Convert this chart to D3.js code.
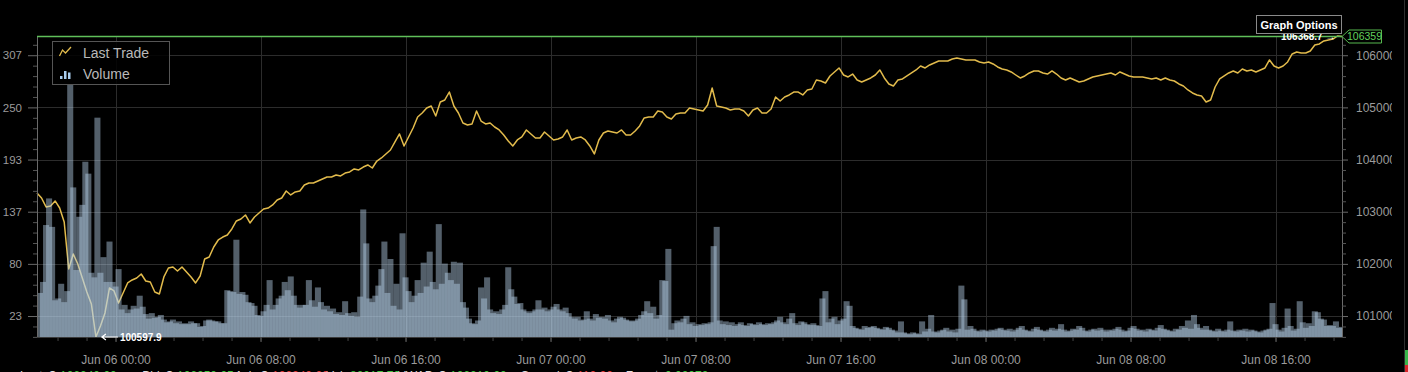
<!DOCTYPE html>
<html>
<head>
<meta charset="utf-8">
<script src="https://cdn.jsdelivr.net/npm/d3@7"></script>
<style>
	html, body { margin: 0; padding: 0; background: #000; overflow: hidden; }
	svg { display: block; font-family: Arial, "Liberation Sans", sans-serif; }
</style>
</head>
<body>
<div id="chart"></div>
<script>
// Last trade, one value every 15 minutes from startTime
var priceSeries = [
	103359,103263,103091,103110,103206,103071,102803,101902,102189,101998,
	101729,101461,101231,100597.9,100809,101058,101538,101480,101250,101442,
	101634,101691,101729,101806,101672,101653,101461,101423,101749,101921,
	101940,101864,101940,101844,101749,101634,101768,102094,102132,102324,
	102458,102515,102554,102669,102822,102861,102937,102784,102899,102976,
	103052,103071,103129,103225,103263,103397,103321,103378,103397,103512,
	103551,103551,103589,103627,103666,103666,103704,103685,103742,103762,
	103819,103800,103857,103896,103838,103972,104030,104107,104183,104337,
	104490,104260,104433,104605,104816,104893,104989,105027,104835,105104,
	105142,105295,105027,104893,104701,104663,104682,104931,104739,104682,
	104701,104624,104567,104471,104356,104260,104375,104433,104567,104490,
	104413,104413,104528,104452,104375,104394,104433,104567,104375,104413,
	104433,104375,104260,104107,104375,104509,104548,104528,104509,104567,
	104471,104471,104548,104644,104797,104816,104816,104931,104912,104816,
	104778,104874,104893,104893,104989,104969,104950,104931,105046,105372,
	105027,105008,104989,104950,104969,104969,104931,104835,104950,104989,
	104893,104893,104969,105200,105123,105200,105238,105295,105295,105238,
	105334,105353,105525,105506,105468,105602,105679,105756,105621,105583,
	105640,105525,105487,105525,105564,105621,105717,105564,105449,105410,
	105525,105545,105602,105660,105717,105794,105756,105813,105851,105890,
	105890,105890,105928,105947,105928,105909,105909,105909,105871,105851,
	105871,105832,105775,105736,105717,105679,105621,105564,105602,105660,
	105698,105698,105660,105640,105698,105640,105564,105525,105564,105525,
	105487,105506,105545,105583,105602,105621,105640,105660,105621,105679,
	105640,105602,105583,105583,105583,105564,105545,105564,105525,105564,
	105525,105506,105449,105410,105334,105276,105238,105219,105104,105142,
	105391,105545,105602,105660,105698,105660,105736,105698,105717,105679,
	105717,105756,105909,105794,105756,105794,105871,106024,106062,106043,
	106043,106081,106196,106216,106273,106292,106311,106368.7,106359
];

// Volume, one bar every 10 minutes from startTime
var volumeSeries = [
	48,60,122,151,120,40,42,58,38,50, 275,163,73,131,144,191,178,70,65,239,
	70,87,60,104,60,55,74,30,35,26, 30,34,31,45,33,25,20,26,21,22,
	24,19,16,17,19,15,17,14,15,14, 17,15,15,11,12,18,19,18,17,17,
	15,15,51,50,49,106,47,49,46,38, 37,34,24,23,28,35,62,30,35,42,
	45,60,51,66,45,35,32,35,
	35,62,40,33,54,38,30,34,28,31, 25,27,24,39,26,23,27,22,44,139,
	102,42,38,45,56,74,104,48,85,34, 58,30,113,65,50,38,45,62,48,81,
	55,93,60,52,123,58,80,70,62,82, 58,81,38,32,20,15,14,18,54,42,
	65,30,26,28,25,30,35,76,52,44, 36,37,30,28,26,28,30,40,30,32,
	28,30,33,36,30,28,32,26,22,20, 22,18,19,28,20,18,25,21,22,
	20,24,18,16,20,22,21,19,18,17, 18,20,24,28,39,26,33,20,24,62,
	61,96,8,15,18,16,20,23,14,16, 12,14,13,15,14,16,99,120,18,14,
	17,13,16,12,14,16,13,12,15,14, 13,16,14,13,15,14,16,18,22,16,
	14,20,26,15,13,17,16,14,13,15, 13,12,42,50,16,20,22,14,18,20,
	39,34,12,10,9,8,12,10,11,12, 10,9,8,11,10,8,7,5,17,5,
	4,3,5,4,3,17,6,9,24,6, 5,7,8,10,6,8,5,9,56,41,
	8,12,9,7,6,8,7,6,8,7, 9,10,8,
	7,9,6,8,10,12,8,7,6,9, 11,8,7,6,8,10,7,9,14,8,
	6,7,9,8,12,10,7,6,8,9, 7,10,8,
	6,8,7,9,11,8,6,7,10,12, 9,7,8,6,9,8,7,10,13,9,
	8,7,6,9,8,12,10,18,9,24, 14,10,8,
	12,8,7,6,9,7,6,8,17,7, 6,8,7,9,6,8,7,6,5,7,
	8,9,37,14,8,6,10,31,12,7, 9,39,16,10,15,12,28,27,20,19,
	12,13,12,17,10,11
];

var priceTicks = [101000, 102000, 103000, 104000, 105000, 106000];
var legendItems = ["Last Trade", "Volume"];
var lastPrice = 106359;
var volumeCeiling = 328;
var startTime = new Date(2025, 5, 5, 19, 40);

// Ticker strip under the chart (only the top of it shows)
var tickerLabels = ["Last: $", "Bid: $", "Ask: $", "Vol:", "VWAP: $", "Spread: $", "Fee: \u0e3f"];
var tickerValues = ["106240.00", "106250.05", "106240.00", "80017.70", "106210.00", "110.00", "0.00070"];
var tickerUp = [true, true, false, true, true, false, true];

var W = 1408, H = 372
	, plot = {left: 37, right: 1342, top: 36, bottom: 337}
	, gridColor = "#2c2c2c", axisText = "#9b9b9b";

var svg = d3.select("#chart").append("svg")
	.attr("width", W)
	.attr("height", H);

svg.append("rect").attr("width", W).attr("height", H).attr("fill", "#000");

// --- SCALES --- \\
var endTime = d3.timeHour.offset(startTime, 72);
var x = d3.scaleTime().domain([startTime, endTime]).range([plot.left, plot.right]);
var yPrice = d3.scaleLinear()
	.domain([d3.min(priceSeries), d3.max(priceSeries)])
	.range([plot.bottom, plot.top]);
var yVol = d3.scaleLinear().domain([0, volumeCeiling]).range([plot.bottom, plot.top]);

var priceData = priceSeries.map(function (p, k) {
	return {t: d3.timeMinute.offset(startTime, 15 * k), p: p};
});
var volData = volumeSeries.map(function (v, i) {
	return {t: d3.timeMinute.offset(startTime, 10 * i), v: v};
});

var timeTicks = x.ticks(d3.timeHour.every(8));

svg.append("defs").append("clipPath").attr("id", "plot-clip")
	.append("rect")
	.attr("x", plot.left).attr("y", plot.top - 2)
	.attr("width", plot.right - plot.left).attr("height", plot.bottom - plot.top + 2);
svg.select("defs").append("clipPath").attr("id", "right-clip")
	.append("rect").attr("x", 0).attr("y", 0).attr("width", 50).attr("height", H);

// --- GRID --- \\
svg.append("g").selectAll("line").data(priceTicks).join("line")
	.attr("x1", plot.left).attr("x2", plot.right)
	.attr("y1", function (d) { return Math.round(yPrice(d)) + 0.5; })
	.attr("y2", function (d) { return Math.round(yPrice(d)) + 0.5; })
	.attr("stroke", gridColor);
svg.append("g").selectAll("line").data(timeTicks).join("line")
	.attr("x1", function (d) { return Math.round(x(d)) + 0.5; })
	.attr("x2", function (d) { return Math.round(x(d)) + 0.5; })
	.attr("y1", plot.top).attr("y2", plot.bottom)
	.attr("stroke", gridColor);

// --- LAST TRADE LINE --- \\
var line = d3.line()
	.x(function (d) { return x(d.t); })
	.y(function (d) { return yPrice(d.p); });

svg.append("path")
	.datum(priceData)
	.attr("d", line)
	.attr("fill", "none")
	.attr("stroke", "#e2bb4c")
	.attr("stroke-width", 1.5)
	.attr("stroke-linejoin", "round");

// --- VOLUME --- \\
// Bars are twice the step wide and see-through, so neighbours overlap
// and tops that stand above their neighbours come out darker
var barStep = x(d3.timeMinute.offset(startTime, 10)) - x(startTime);
svg.append("g").attr("clip-path", "url(#plot-clip)")
	.selectAll("rect").data(volData).join("rect")
	.attr("x", function (d) { return x(d.t); })
	.attr("y", function (d) { return yVol(d.v); })
	.attr("width", barStep * 2)
	.attr("height", function (d) { return plot.bottom - yVol(d.v); })
	.attr("fill", "#b9d3ea")
	.attr("fill-opacity", 0.45);

// --- AXES --- \\
function styleAxis(g, fontSize) {
	g.select(".domain").attr("stroke", "#6a6a6a");
	g.selectAll(".tick line").attr("stroke", "#6a6a6a");
	g.selectAll(".tick text").attr("fill", axisText).attr("font-size", fontSize + "px")
		.attr("font-family", "Arial, 'Liberation Sans', sans-serif");
}

var minorPrice = d3.range(100600, 106400, 200).filter(function (d) {
	return priceTicks.indexOf(d) < 0 && yPrice(d) >= plot.top;
});

// Left axis shows volume at the same heights as the price grid
var leftAxis = svg.append("g").attr("transform", "translate(" + plot.left + ",0)")
	.call(d3.axisLeft(yPrice).tickValues(priceTicks).tickSize(9).tickSizeOuter(0).tickPadding(6)
		.tickFormat(function (p) { return Math.round(yVol.invert(yPrice(p))); }));
styleAxis(leftAxis, 11.5);
svg.append("g").attr("transform", "translate(" + plot.left + ",0)")
	.call(d3.axisLeft(yPrice).tickValues(minorPrice).tickSize(4).tickFormat(""))
	.call(function (g) { g.select(".domain").remove(); })
	.selectAll("line").attr("stroke", "#555");

// Right axis labels are cut at the panel edge, as in the app
var rightAxis = svg.append("g").attr("transform", "translate(" + plot.right + ",0)")
	.attr("clip-path", "url(#right-clip)")
	.call(d3.axisRight(yPrice).tickValues(priceTicks).tickSize(6).tickSizeOuter(0).tickPadding(8)
		.tickFormat(d3.format("d")));
styleAxis(rightAxis, 12);
svg.append("g").attr("transform", "translate(" + plot.right + ",0)")
	.call(d3.axisRight(yPrice).tickValues(minorPrice).tickSize(4).tickFormat(""))
	.call(function (g) { g.select(".domain").remove(); })
	.selectAll("line").attr("stroke", "#555");

var bottomAxis = svg.append("g").attr("transform", "translate(0," + plot.bottom + ")")
	.call(d3.axisBottom(x).tickValues(timeTicks).tickSize(5).tickSizeOuter(0).tickPadding(13)
		.tickFormat(d3.timeFormat("%b %d %H:%M")));
styleAxis(bottomAxis, 12);
bottomAxis.select(".domain").attr("stroke", "#3a3a3a");

var minorTimes = d3.range(-3, 48).map(function (k) {
	return d3.timeMinute.offset(timeTicks[0], 96 * k);
}).filter(function (t) { return t >= startTime && t <= endTime; });
svg.append("g").attr("transform", "translate(0," + plot.bottom + ")")
	.call(d3.axisBottom(x).tickValues(minorTimes).tickSize(4).tickFormat(""))
	.call(function (g) { g.select(".domain").remove(); })
	.selectAll("line").attr("stroke", "#444");

// --- LAST PRICE MARKER --- \\
var yLast = yPrice(lastPrice);
svg.append("line")
	.attr("x1", plot.left).attr("x2", plot.right)
	.attr("y1", yLast).attr("y2", yLast)
	.attr("stroke", "#5fbf5a").attr("stroke-width", 1.5);

svg.append("path")
	.attr("d", "M" + plot.right + "," + yLast + "L" + (plot.right + 7) + "," + (yLast - 6.5)
		+ "H" + (plot.right + 39.5) + "V" + (yLast + 6.5) + "H" + (plot.right + 7) + "Z")
	.attr("fill", "#000").attr("stroke", "#56b84f").attr("stroke-width", 1);
svg.append("text")
	.attr("x", plot.right + 5).attr("y", yLast).attr("dy", "0.35em")
	.attr("font-size", "10.5px").attr("fill", "#62d25c")
	.text(d3.format("d")(lastPrice));

// --- HIGH / LOW LABELS --- \\
var hi = d3.greatest(priceData, function (d) { return d.p; })
	, lo = d3.least(priceData, function (d) { return d.p; });

svg.append("text")
	.attr("x", x(hi.t) - 2).attr("y", yPrice(hi.p)).attr("dy", "0.35em")
	.attr("text-anchor", "end")
	.attr("font-size", "10px").attr("font-weight", "bold").attr("fill", "#fff")
	.text(d3.format(".1f")(hi.p) + " \u2192");

var loX = x(lo.t) + 6, loY = yPrice(lo.p);
svg.append("path")
	.attr("d", "M" + (loX + 16) + "," + loY + "H" + loX + "M" + (loX + 4) + "," + (loY - 3)
		+ "L" + loX + "," + loY + "L" + (loX + 4) + "," + (loY + 3))
	.attr("fill", "none").attr("stroke", "#fff").attr("stroke-width", 1.2);
svg.append("text")
	.attr("x", loX + 18).attr("y", loY).attr("dy", "0.35em")
	.attr("font-size", "10px").attr("font-weight", "bold").attr("fill", "#fff")
	.text(d3.format(".1f")(lo.p));

// --- GRAPH OPTIONS BUTTON --- \\
svg.append("rect")
	.attr("x", 1256.5).attr("y", 15.5).attr("width", 85).attr("height", 18)
	.attr("fill", "#000").attr("stroke", "#8a8a8a");
svg.append("text")
	.attr("x", 1299).attr("y", 28.5).attr("text-anchor", "middle")
	.attr("font-size", "11px").attr("font-weight", "bold").attr("fill", "#fff")
	.text("Graph Options");

// --- LEGEND --- \\
var legend = svg.append("g").attr("transform", "translate(52.5,41.5)");
legend.append("rect")
	.attr("width", 117).attr("height", 43)
	.attr("fill", "#000").attr("fill-opacity", 0.85)
	.attr("stroke", "#555");
legend.append("path")
	.attr("d", "M7,14.5L10,8.5L13,11.5L18.5,5.5")
	.attr("fill", "none").attr("stroke", "#e2bb4c").attr("stroke-width", 1.3);
legend.append("g").selectAll("rect").data([[7.5, 3], [11.5, 8], [15.5, 6.5]]).join("rect")
	.attr("x", function (d) { return d[0]; })
	.attr("y", function (d) { return 37.5 - d[1]; })
	.attr("width", 2.5)
	.attr("height", function (d) { return d[1]; })
	.attr("fill", "#a9cdee");
legend.selectAll("text.lg").data(legendItems).join("text")
	.attr("class", "lg")
	.attr("x", 30.5)
	.attr("y", function (d, i) { return 16.5 + i * 20.5; })
	.attr("font-size", "14px").attr("fill", "#b9b9b9")
	.text(function (d) { return d; });

// --- TICKER STRIP --- \\
// Only the top few pixels of this row fit in the window
var tickerX = [60, 177, 272, 350, 450, 577, 665];
var ticker = svg.append("g").attr("font-size", "12px");
ticker.selectAll("text.lab").data(tickerLabels).join("text")
	.attr("class", "lab")
	.attr("x", function (d, i) { return tickerX[i] - 4; })
	.attr("y", 379.5)
	.attr("text-anchor", "end")
	.attr("fill", "#ddd")
	.text(function (d) { return d; });
ticker.selectAll("text.val").data(tickerValues).join("text")
	.attr("class", "val")
	.attr("x", function (d, i) { return tickerX[i]; })
	.attr("y", 379.5)
	.attr("fill", function (d, i) { return tickerUp[i] ? "#3fc63f" : "#e23a3a"; })
	.text(function (d) { return d; });

// Right edge depth bar
svg.append("line").attr("x1", 1404.5).attr("x2", 1404.5).attr("y1", 0).attr("y2", H)
	.attr("stroke", "#2e2e2e");
svg.append("rect").attr("x", 1405).attr("y", 350).attr("width", 3).attr("height", 15).attr("fill", "#39b54a");
svg.append("rect").attr("x", 1405).attr("y", 365).attr("width", 3).attr("height", 7).attr("fill", "#d8262b");
</script>
</body>
</html>
